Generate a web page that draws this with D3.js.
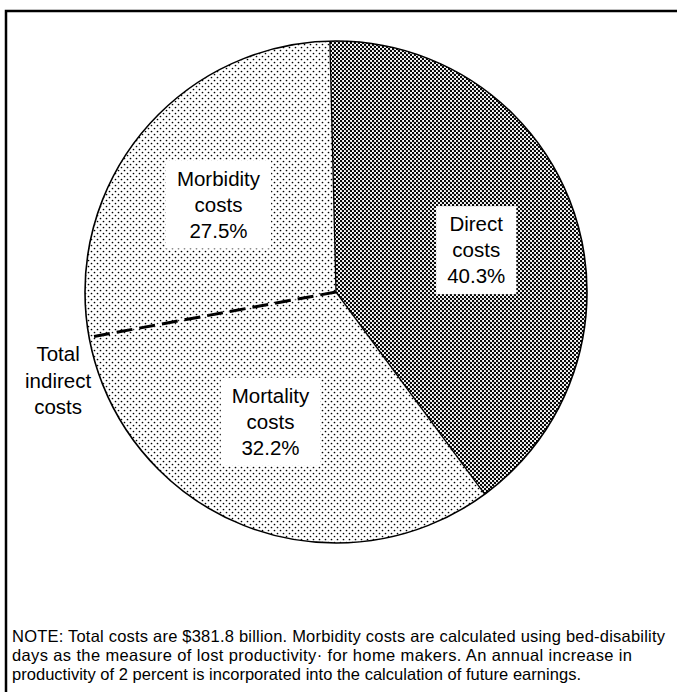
<!DOCTYPE html>
<html>
<head>
<meta charset="utf-8">
<script src="https://cdn.jsdelivr.net/npm/d3@7"></script>
<style>
  html, body { margin: 0; padding: 0; background: #fff; }
  svg { display: block; }
  text { font-family: "Liberation Sans", Arial, sans-serif; fill: #000; }
</style>
</head>
<body>
<svg id="chart" width="677" height="692"></svg>
<script>
// ---- data ----
const categories = ["Direct costs", "Mortality costs", "Morbidity costs"];
const labelLines = [["Direct", "costs"], ["Mortality", "costs"], ["Morbidity", "costs"]];
const shares = [40.3, 32.2, 27.5];
const shareLabels = ["40.3%", "32.2%", "27.5%"];
const indirectLabel = ["Total", "indirect", "costs"];
const noteLines = [
  "NOTE: Total costs are $381.8 billion. Morbidity costs are calculated using bed-disability",
  "days as the measure of lost productivity\u00B7 for home makers. An annual increase in",
  "productivity of 2 percent is incorporated into the calculation of future earnings."
];

// ---- layout / style ----
const W = 677, H = 692;
const cx = 336, cy = 292, R = 251;
const rot = -1.4 * Math.PI / 180;
const fills = ["url(#dense)", "url(#sparse)", "url(#sparse)"];
const labelR = 145;
const labelNudge = [[3, 5], [-12, -5], [-5, 4]];
const noteEnds = [665, 632, 581];

const svg = d3.select("#chart");
const defs = svg.append("defs");

const dense = defs.append("pattern").attr("id", "dense")
  .attr("patternUnits", "userSpaceOnUse").attr("width", 4).attr("height", 4);
dense.append("rect").attr("width", 4).attr("height", 4).attr("fill", "#fff");
dense.append("circle").attr("cx", 1).attr("cy", 1).attr("r", 1.2).attr("fill", "#000");
dense.append("circle").attr("cx", 3).attr("cy", 3).attr("r", 1.2).attr("fill", "#000");

const sparse = defs.append("pattern").attr("id", "sparse")
  .attr("patternUnits", "userSpaceOnUse").attr("width", 6).attr("height", 6);
sparse.append("rect").attr("width", 6).attr("height", 6).attr("fill", "#fff");
sparse.append("circle").attr("cx", 1.5).attr("cy", 1.5).attr("r", 0.85).attr("fill", "#000");
sparse.append("circle").attr("cx", 4.5).attr("cy", 4.5).attr("r", 0.85).attr("fill", "#000");

svg.append("rect").attr("width", W).attr("height", H).attr("fill", "#fff");

// frame
svg.append("rect").attr("x", 6).attr("y", 11).attr("width", 720).attr("height", 720)
  .attr("fill", "none").attr("stroke", "#000").attr("stroke-width", 2.5);

const pie = d3.pie().sort(null).value(d => d)
  .startAngle(rot).endAngle(rot + 2 * Math.PI);
const arcs = pie(shares);
const arc = d3.arc().innerRadius(0).outerRadius(R);
const labelArc = d3.arc().innerRadius(labelR).outerRadius(labelR);

const g = svg.append("g").attr("transform", `translate(${cx},${cy})`);

g.selectAll("path.slice").data(arcs).enter().append("path")
  .attr("class", "slice")
  .attr("d", arc)
  .attr("fill", (d, i) => fills[i])
  .attr("stroke", "none");

// outer circle
g.append("circle").attr("r", R).attr("fill", "none").attr("stroke", "#000").attr("stroke-width", 1.6);

// radial boundaries
const pt = (a, r) => [Math.sin(a) * r, -Math.cos(a) * r];
[arcs[0].startAngle, arcs[0].endAngle].forEach(a => {
  const p = pt(a, R);
  g.append("line").attr("x1", 0).attr("y1", 0).attr("x2", p[0]).attr("y2", p[1])
    .attr("stroke", "#000").attr("stroke-width", 1.3);
});
const dashEnd = pt(arcs[1].endAngle, R);
g.append("line").attr("x1", 0).attr("y1", 0).attr("x2", dashEnd[0]).attr("y2", dashEnd[1])
  .attr("stroke", "#000").attr("stroke-width", 3).attr("stroke-dasharray", "16,7");

// slice labels with white boxes
arcs.forEach((d, i) => {
  const c = labelArc.centroid(d);
  const x = c[0] + labelNudge[i][0], y = c[1] + labelNudge[i][1];
  const lines = labelLines[i].concat([shareLabels[i]]);
  const lg = g.append("g");
  const box = lg.append("rect").attr("fill", "#fff");
  const texts = lg.selectAll("text").data(lines).enter().append("text")
    .attr("x", x).attr("y", (t, k) => y - 19 + k * 26)
    .attr("text-anchor", "middle").attr("font-size", 20.5).text(t => t);
  let mw = 0;
  texts.each(function () { mw = Math.max(mw, this.getComputedTextLength()); });
  box.attr("x", x - mw / 2 - 11).attr("y", y - 44).attr("width", mw + 22).attr("height", 88);
});

// Total indirect costs label
const ix = cx + dashEnd[0] - 31, iy = cy + dashEnd[1] + 24;
svg.append("g").selectAll("text").data(indirectLabel).enter().append("text")
  .attr("x", ix).attr("y", (t, k) => iy + k * 26.5)
  .attr("text-anchor", "middle").attr("font-size", 20.5).text(t => t);

// note
svg.append("g").selectAll("text").data(noteLines).enter().append("text")
  .attr("x", 12).attr("y", (t, k) => 642 + k * 19)
  .attr("font-size", 16.5)
  .attr("textLength", (t, k) => noteEnds[k] - 12)
  .attr("lengthAdjust", "spacing")
  .text(t => t);
</script>
</body>
</html>
